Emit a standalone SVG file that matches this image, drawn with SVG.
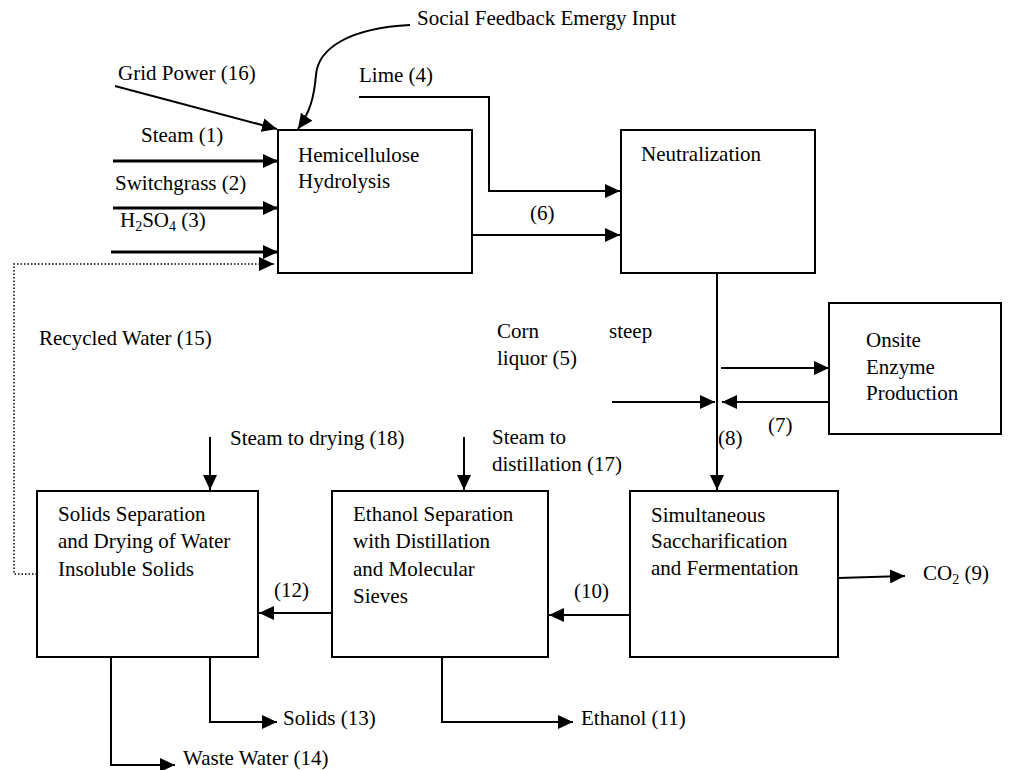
<svg xmlns="http://www.w3.org/2000/svg" width="1009" height="770" viewBox="0 0 1009 770">
<style>
.box{fill:#fff;stroke:#000;stroke-width:2}
.t{font-family:"Liberation Serif","Times New Roman",serif;font-size:21px;fill:#000}
.c{fill:none;stroke:#000;stroke-width:2}
.thick{fill:none;stroke:#000;stroke-width:3}
.dot{fill:none;stroke:#000;stroke-width:1.5;stroke-dasharray:1.5 2}
.sub{font-size:14px}
</style>
<defs>
<marker id="ah" markerUnits="userSpaceOnUse" markerWidth="15" markerHeight="14" refX="15" refY="7" orient="auto">
<path d="M0,0 L15,7 L0,14 z" fill="#000"/>
</marker>
</defs>
<rect width="1009" height="770" fill="#fff"/>
<g id="connectors">
<path class="c" d="M115,86 L277,129" marker-end="url(#ah)"/>
<path class="c" d="M410,25 C350,28 318,48 316,75 C314,98 310,112 298,129" marker-end="url(#ah)"/>
<path class="thick" d="M113,161 H278" marker-end="url(#ah)"/>
<path class="thick" d="M113,208 H278" marker-end="url(#ah)"/>
<path class="thick" d="M111,252 H278" marker-end="url(#ah)"/>
<path class="dot" d="M37,574 H14 V264 H274" marker-end="url(#ah)"/>
<path class="c" d="M359,97 H489 V191 H620" marker-end="url(#ah)"/>
<path class="c" d="M472,235 H620" marker-end="url(#ah)"/>
<path class="c" d="M717,273 V490" marker-end="url(#ah)"/>
<path class="c" d="M721,368 H829" marker-end="url(#ah)"/>
<path class="c" d="M829,402 H722" marker-end="url(#ah)"/>
<path class="c" d="M612,402 H715" marker-end="url(#ah)"/>
<path class="c" d="M838,578 L905,576" marker-end="url(#ah)"/>
<path class="c" d="M630,615 H549" marker-end="url(#ah)"/>
<path class="c" d="M332,613 H259" marker-end="url(#ah)"/>
<path class="c" d="M464,437 V490" marker-end="url(#ah)"/>
<path class="c" d="M210,437 V490" marker-end="url(#ah)"/>
<path class="c" d="M210,657 V722 H277" marker-end="url(#ah)"/>
<path class="c" d="M111,657 V765 H175" marker-end="url(#ah)"/>
<path class="c" d="M442,657 V722 H573" marker-end="url(#ah)"/>
</g>
<g id="labels">
<text class="t" x="417" y="25">Social Feedback Emergy Input</text>
<text class="t" x="118" y="80">Grid Power (16)</text>
<text class="t" x="359" y="82">Lime (4)</text>
<text class="t" x="141" y="142">Steam (1)</text>
<text class="t" x="115" y="190">Switchgrass (2)</text>
<text class="t" x="120" y="227">H<tspan class="sub" dy="4">2</tspan><tspan dy="-4">SO</tspan><tspan class="sub" dy="4">4</tspan><tspan dy="-4"> (3)</tspan></text>
<text class="t" x="530" y="220">(6)</text>
<text class="t" x="39" y="345">Recycled Water (15)</text>
<text class="t" x="497" y="338">Corn</text>
<text class="t" x="609" y="338">steep</text>
<text class="t" x="497" y="365">liquor (5)</text>
<text class="t" x="768" y="432">(7)</text>
<text class="t" x="718" y="445">(8)</text>
<text class="t" x="230" y="445">Steam to drying (18)</text>
<text class="t" x="492" y="444">Steam to</text>
<text class="t" x="492" y="471">distillation (17)</text>
<text class="t" x="923" y="580">CO<tspan class="sub" dy="4">2</tspan><tspan dy="-4"> (9)</tspan></text>
<text class="t" x="574" y="598">(10)</text>
<text class="t" x="274" y="597">(12)</text>
<text class="t" x="283" y="725">Solids (13)</text>
<text class="t" x="581" y="725">Ethanol (11)</text>
<text class="t" x="183" y="765">Waste Water (14)</text>
</g>
<g id="hemicellulose">
<rect class="box" x="278" y="130" width="194" height="143"/>
<text class="t" x="298" y="162">Hemicellulose</text>
<text class="t" x="298" y="188">Hydrolysis</text>
</g>
<g id="neutralization">
<rect class="box" x="621" y="130" width="194" height="143"/>
<text class="t" x="641" y="161">Neutralization</text>
</g>
<g id="enzyme">
<rect class="box" x="829" y="303" width="172" height="131"/>
<text class="t" x="866" y="347">Onsite</text>
<text class="t" x="866" y="374">Enzyme</text>
<text class="t" x="866" y="400">Production</text>
</g>
<g id="ssf">
<rect class="box" x="630" y="491" width="208" height="166"/>
<text class="t" x="651" y="522">Simultaneous</text>
<text class="t" x="651" y="548">Saccharification</text>
<text class="t" x="651" y="575">and Fermentation</text>
</g>
<g id="ethanol-separation">
<rect class="box" x="332" y="491" width="216" height="166"/>
<text class="t" x="353" y="521">Ethanol Separation</text>
<text class="t" x="353" y="548">with Distillation</text>
<text class="t" x="353" y="576">and Molecular</text>
<text class="t" x="353" y="603">Sieves</text>
</g>
<g id="solids-separation">
<rect class="box" x="37" y="491" width="221" height="166"/>
<text class="t" x="58" y="521">Solids Separation</text>
<text class="t" x="58" y="548">and Drying of Water</text>
<text class="t" x="58" y="576">Insoluble Solids</text>
</g>
</svg>
